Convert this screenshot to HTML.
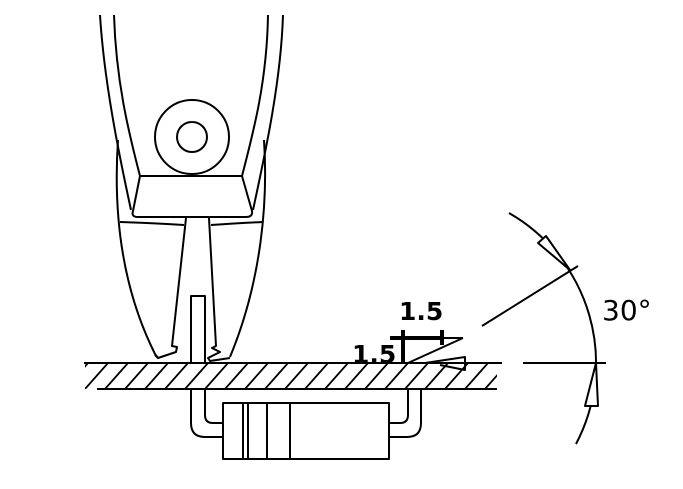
<!DOCTYPE html>
<html><head><meta charset="utf-8"><style>
html,body{margin:0;padding:0;background:#fff}
svg{display:block}
</style></head><body>
<svg width="683" height="489" viewBox="0 0 683 489" xmlns="http://www.w3.org/2000/svg">
<defs>
<clipPath id="bd"><rect x="85" y="363" width="412" height="26"/></clipPath>
</defs>
<g fill="none" stroke="#000" stroke-width="2" stroke-linejoin="round">
<path d="M100,15 C104,80 118,150 131,210"/>
<path d="M114,15 C116,80 128,130 140,176"/>
<path d="M283,15 C281,80 266,150 253,210"/>
<path d="M268,15 C267,80 254,130 242,176"/>
<path d="M140,176 L242,176 L252,211 Q253,217 246,217 L138,217 Q131,217 133,211 Z"/>
<circle cx="192" cy="137" r="37"/>
<circle cx="192" cy="137" r="15"/>
<path d="M118,140 C114,200 118,280 155,354 L158,358"/>
<path d="M264,140 C268,200 262,280 230,357"/>
<path d="M120,222 Q150,223 184,225"/>
<path d="M211,225 Q240,223 263,222"/>
<path d="M186,218 L172,346 L177,347 L176,352 L158,358 L155,355"/>
<path d="M209,218 L216,346 L212,348 L220,352 L208,358 L210,361 L230,358"/>
<path d="M191,363 L191,296 L205,296 L205,363"/>
<line x1="84" y1="363" x2="502" y2="363"/>
<line x1="97" y1="389" x2="497" y2="389"/>
<g clip-path="url(#bd)" stroke-width="1.8">
<path d="M65,389 L88,363 M85,389 L108,363 M105,389 L128,363 M125,389 L148,363 M145,389 L168,363 M165,389 L188,363 M185,389 L208,363 M205,389 L228,363 M225,389 L248,363 M245,389 L268,363 M265,389 L288,363 M285,389 L308,363 M305,389 L328,363 M325,389 L348,363 M345,389 L368,363 M365,389 L388,363 M385,389 L408,363 M405,389 L428,363 M425,389 L448,363 M445,389 L468,363 M465,389 L488,363 M485,389 L508,363"/>
</g>
<path d="M191,389 L191,423 Q191,437 205,437 L223,437"/>
<path d="M205,389 L205,415 Q205,423 213,423 L223,423"/>
<path d="M421,389 L421,423 Q421,437 407,437 L389,437"/>
<path d="M408,389 L408,415 Q408,423 400,423 L389,423"/>
<rect x="223" y="403" width="166" height="56"/>
<line x1="243" y1="403" x2="243" y2="459"/>
<line x1="248" y1="403" x2="248" y2="459"/>
<line x1="267" y1="403" x2="267" y2="459"/>
<line x1="290" y1="403" x2="290" y2="459"/>
<path d="M463,338 L408,363"/>
<line x1="440" y1="338" x2="463" y2="338"/>
<path d="M425,363 L465,357 L465,370 L440,365"/>
<line x1="523" y1="363" x2="606" y2="363"/>
<line x1="482" y1="326" x2="578" y2="266"/>
<path d="M509,213 A173,173 0 0 1 576,444"/>
<path d="M570,270 L538,243 L546,236 Z" fill="#fff"/>
<path d="M596,363 L585,406 L598,406 Z" fill="#fff"/>
</g>
<g stroke="#000" stroke-width="4">
<line x1="390" y1="338" x2="442" y2="338"/>
<line x1="403" y1="330" x2="403" y2="363"/>
<line x1="442" y1="330" x2="442" y2="345"/>
</g>
<g font-family="'DejaVu Sans', 'Liberation Sans', sans-serif" fill="#000">
<text x="399" y="320" font-size="25" font-weight="bold">1.5</text>
<text x="352" y="363" font-size="25" font-weight="bold">1.5</text>
<text x="602" y="320" font-size="28">30°</text>
</g>
</svg>
</body></html>
